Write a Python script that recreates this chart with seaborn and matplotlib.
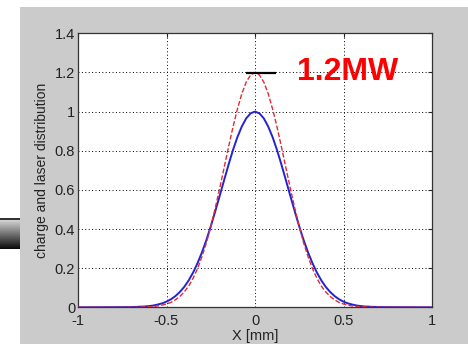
import numpy as np
import pandas as pd
import matplotlib
matplotlib.use("Agg")
import matplotlib.pyplot as plt
import seaborn as sns

# Transverse position [mm]
x_half = [0.0, 0.025, 0.05, 0.075, 0.1, 0.125, 0.15, 0.175, 0.2, 0.225, 0.25,
          0.275, 0.3, 0.325, 0.35, 0.375, 0.4, 0.425, 0.45, 0.475, 0.5, 0.525,
          0.55, 0.575, 0.6, 0.625, 0.65, 0.675, 0.7, 1.0]

# Charge distribution (normalised), sampled on x_half
charge_half = [1.0, 0.991, 0.965, 0.923, 0.868, 0.802, 0.727, 0.648, 0.568,
               0.489, 0.413, 0.343, 0.280, 0.225, 0.177, 0.137, 0.104, 0.078,
               0.057, 0.041, 0.029, 0.020, 0.014, 0.009, 0.006, 0.004, 0.003,
               0.002, 0.001, 0.0]

# Laser distribution at 1.2 MW, sampled on x_half
laser_half = [1.2, 1.187, 1.150, 1.090, 1.011, 0.919, 0.817, 0.711, 0.606,
              0.505, 0.412, 0.329, 0.258, 0.197, 0.148, 0.108, 0.078, 0.055,
              0.038, 0.025, 0.017, 0.011, 0.007, 0.004, 0.003, 0.002, 0.001,
              0.0, 0.0, 0.0]

# Peak level marker and label
peak_x = [-0.05, 0.12]
peak_y = [1.195, 1.195]
label_text = "1.2MW"
label_pos = (0.525, 1.2)

x_ticks = [-1, -0.5, 0, 0.5, 1]
x_tick_labels = ["-1", "-0.5", "0", "0.5", "1"]
y_ticks = [0, 0.2, 0.4, 0.6, 0.8, 1.0, 1.2, 1.4]
y_tick_labels = ["0", "0.2", "0.4", "0.6", "0.8", "1", "1.2", "1.4"]

# Full symmetric profiles
x_full = [-v for v in x_half[::-1]] + x_half[1:]
charge_full = charge_half[::-1] + charge_half[1:]
laser_full = laser_half[::-1] + laser_half[1:]

df = pd.DataFrame({"x": x_full, "charge": charge_full, "laser": laser_full})

sns.set_style("white")
plt.rcParams["font.family"] = ["Liberation Sans", "DejaVu Sans"]

fig = plt.figure(figsize=(4.68, 3.44), dpi=100)
fig.patch.set_facecolor("white")
W, H = 468, 344

# Grey slide panel behind the plot
bg_ax = fig.add_axes([20 / W, 0, 1 - 20 / W, 1 - 7 / H], zorder=-5)
bg_ax.set_facecolor("#cbcbcb")
bg_ax.set_xticks([])
bg_ax.set_yticks([])
for s in bg_ax.spines.values():
    s.set_visible(False)

# Shaded bar at the left edge
bar_ax = fig.add_axes([0, (H - 249) / H, 20 / W, 31 / H], zorder=-4)
shade = np.concatenate([np.full(2, 0.2), np.linspace(0.82, 0.05, 29)])
bar_ax.imshow(np.tile(shade[:, None], (1, 10)), cmap="gray", vmin=0, vmax=1,
              aspect="auto", interpolation="bilinear")
bar_ax.axis("off")

ax = fig.add_axes([78 / W, (H - 307.3) / H, (432 - 78) / W, (307.3 - 33.3) / H])
ax.set_facecolor("white")

sns.lineplot(data=df, x="x", y="charge", ax=ax, color="#2323d2", linewidth=1.4,
             sort=False, zorder=3)
sns.lineplot(data=df, x="x", y="laser", ax=ax, color="#e22a35", linewidth=1.0,
             sort=False, zorder=4, dashes=False, linestyle=(0, (3.5, 1.5)))

ax.plot(peak_x, peak_y, color="black", linewidth=1.6, zorder=5,
        solid_capstyle="butt")
ax.text(label_pos[0], label_pos[1], label_text, color="#ff0000", fontsize=23,
        fontweight="bold", ha="center", va="center", zorder=6)

ax.set_xlim(-1, 1)
ax.set_ylim(0, 1.4)
ax.set_xticks(x_ticks)
ax.set_xticklabels(x_tick_labels)
ax.set_yticks(y_ticks)
ax.set_yticklabels(y_tick_labels)
ax.grid(True, color="black", linestyle=(0, (1, 2.5)), linewidth=0.7)
ax.tick_params(direction="in", length=3, width=0.8, labelsize=10.5,
               colors="#222222", top=True, right=True)
ax.tick_params(axis="x", pad=4.5)
ax.tick_params(axis="y", pad=2)
for s in ax.spines.values():
    s.set_color("#333333")
    s.set_linewidth(0.9)
    s.set_visible(True)

ax.set_xlabel("X [mm]", fontsize=10.5, labelpad=1, color="#222222")
ax.set_ylabel("charge and laser distribution", fontsize=10, labelpad=4,
              color="#222222")

fig.savefig("out.png", dpi=100, facecolor=fig.get_facecolor())
